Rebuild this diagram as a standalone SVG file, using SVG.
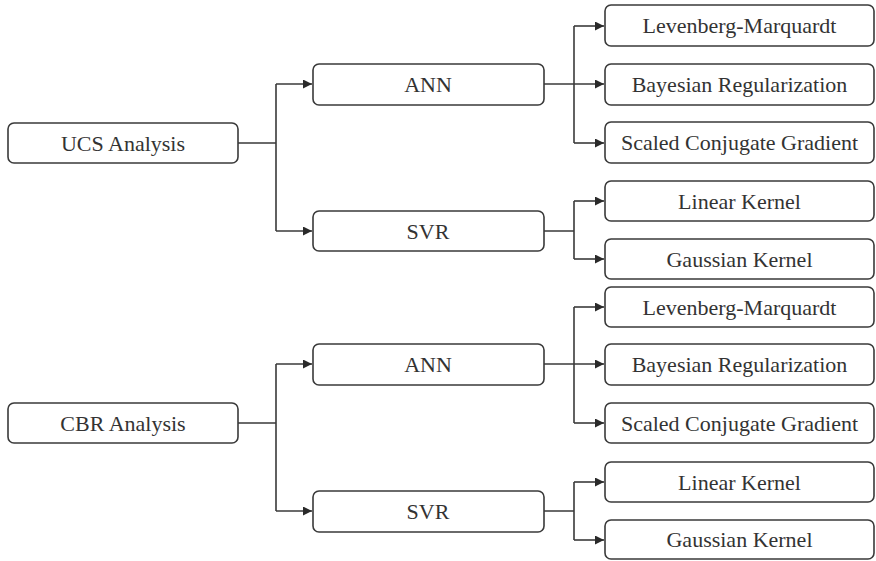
<svg xmlns="http://www.w3.org/2000/svg" width="876" height="561" viewBox="0 0 876 561">
<style>
.box{fill:#fff;stroke:#3a3a3a;stroke-width:1.6}
.lbl{font-family:"Liberation Serif","Times New Roman",serif;font-size:22px;fill:#333;text-anchor:middle}
.con{fill:none;stroke:#3a3a3a;stroke-width:1.6}
</style>
<defs>
<marker id="ah" viewBox="0 0 10 10" refX="10" refY="5" markerWidth="9" markerHeight="9" markerUnits="userSpaceOnUse" orient="auto">
<path d="M0,0 L10,5 L0,10 z" fill="#2a2a2a"/>
</marker>
</defs>
<rect width="876" height="561" fill="#fff"/>
<g id="connectors">
<path class="con" d="M238,143 H276 M276,84 V231" />
<path class="con" d="M276,84 H312" marker-end="url(#ah)"/>
<path class="con" d="M276,231 H312" marker-end="url(#ah)"/>
<path class="con" d="M544,84 H604" marker-end="url(#ah)"/>
<path class="con" d="M574,26 V143"/>
<path class="con" d="M574,26 H604" marker-end="url(#ah)"/>
<path class="con" d="M574,143 H604" marker-end="url(#ah)"/>
<path class="con" d="M544,231 H574 M574,201 V259"/>
<path class="con" d="M574,201 H604" marker-end="url(#ah)"/>
<path class="con" d="M574,259 H604" marker-end="url(#ah)"/>
<path class="con" d="M238,423 H276 M276,364 V511" />
<path class="con" d="M276,364 H312" marker-end="url(#ah)"/>
<path class="con" d="M276,511 H312" marker-end="url(#ah)"/>
<path class="con" d="M544,364 H604" marker-end="url(#ah)"/>
<path class="con" d="M574,307 V423"/>
<path class="con" d="M574,307 H604" marker-end="url(#ah)"/>
<path class="con" d="M574,423 H604" marker-end="url(#ah)"/>
<path class="con" d="M544,511 H574 M574,482 V540"/>
<path class="con" d="M574,482 H604" marker-end="url(#ah)"/>
<path class="con" d="M574,540 H604" marker-end="url(#ah)"/>
</g>
<g id="ucs"><rect class="box" x="8" y="123" width="230" height="40" rx="6"/><text class="lbl" x="123" y="150.5">UCS Analysis</text></g>
<g id="ann1"><rect class="box" x="313" y="64" width="231" height="41" rx="6"/><text class="lbl" x="428" y="91.5">ANN</text></g>
<g id="svr1"><rect class="box" x="313" y="211" width="231" height="40" rx="6"/><text class="lbl" x="428" y="238.5">SVR</text></g>
<g id="lm1"><rect class="box" x="605" y="5" width="269" height="41" rx="6"/><text class="lbl" x="739.5" y="33">Levenberg-Marquardt</text></g>
<g id="br1"><rect class="box" x="605" y="64" width="269" height="41" rx="6"/><text class="lbl" x="739.5" y="91.5">Bayesian Regularization</text></g>
<g id="scg1"><rect class="box" x="605" y="122" width="269" height="41" rx="6"/><text class="lbl" x="739.5" y="150">Scaled Conjugate Gradient</text></g>
<g id="lk1"><rect class="box" x="605" y="181" width="269" height="40" rx="6"/><text class="lbl" x="739.5" y="208.5">Linear Kernel</text></g>
<g id="gk1"><rect class="box" x="605" y="239" width="269" height="40" rx="6"/><text class="lbl" x="739.5" y="266.5">Gaussian Kernel</text></g>
<g id="cbr"><rect class="box" x="8" y="403" width="230" height="40" rx="6"/><text class="lbl" x="123" y="430.5">CBR Analysis</text></g>
<g id="ann2"><rect class="box" x="313" y="344" width="231" height="41" rx="6"/><text class="lbl" x="428" y="371.5">ANN</text></g>
<g id="svr2"><rect class="box" x="313" y="491" width="231" height="41" rx="6"/><text class="lbl" x="428" y="518.5">SVR</text></g>
<g id="lm2"><rect class="box" x="605" y="287" width="269" height="40" rx="6"/><text class="lbl" x="739.5" y="314.5">Levenberg-Marquardt</text></g>
<g id="br2"><rect class="box" x="605" y="344" width="269" height="41" rx="6"/><text class="lbl" x="739.5" y="371.5">Bayesian Regularization</text></g>
<g id="scg2"><rect class="box" x="605" y="403" width="269" height="40" rx="6"/><text class="lbl" x="739.5" y="430.5">Scaled Conjugate Gradient</text></g>
<g id="lk2"><rect class="box" x="605" y="462" width="269" height="40" rx="6"/><text class="lbl" x="739.5" y="489.5">Linear Kernel</text></g>
<g id="gk2"><rect class="box" x="605" y="520" width="269" height="39" rx="6"/><text class="lbl" x="739.5" y="547">Gaussian Kernel</text></g>
</svg>
